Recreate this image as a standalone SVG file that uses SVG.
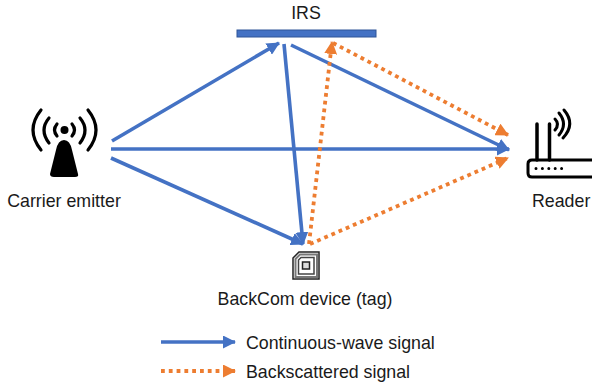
<svg xmlns="http://www.w3.org/2000/svg" width="592" height="385" viewBox="0 0 592 385">
<style>
text{font-family:"Liberation Sans",Arial,sans-serif;font-size:17.800px;fill:#1a1a1a}
.b{stroke:#4472c4;stroke-width:3.600;fill:none}
.o{stroke:#ed7d31;stroke-width:3.800;fill:none;stroke-dasharray:3.800 4}
.k{stroke:#000;fill:none;stroke-linecap:round}
</style>
<defs>
<marker id="ab" markerUnits="userSpaceOnUse" markerWidth="13" markerHeight="13" refX="12" refY="6.500" orient="auto"><path d="M0 0L13 6.500L0 13Z" fill="#4472c4"/></marker>
<marker id="ao" markerUnits="userSpaceOnUse" markerWidth="13" markerHeight="13" refX="12" refY="6.500" orient="auto"><path d="M0 0L13 6.500L0 13Z" fill="#ed7d31"/></marker>
</defs>
<g id="connectors">
<path class="b" marker-end="url(#ab)" d="M112 141L279 43"/>
<path class="b" marker-end="url(#ab)" d="M111 149L509 149"/>
<path class="b" marker-end="url(#ab)" d="M111 158L303 244"/>
<path class="b" marker-end="url(#ab)" d="M284 44L303 244"/>
<path class="b" marker-end="url(#ab)" d="M291 45L509 150"/>
<path class="o" marker-end="url(#ao)" d="M309 244L332 42"/>
<path class="o" marker-end="url(#ao)" d="M333 43L508 135"/>
<path class="o" marker-end="url(#ao)" d="M310 244L508 158"/>
<path class="b" marker-end="url(#ab)" d="M161 342L235 342"/>
<path class="o" marker-end="url(#ao)" d="M161 371L235 371"/>
</g>
<g id="irs">
<rect x="237" y="30" width="139" height="7" fill="#4472c4" stroke="#2f5597" stroke-width="1"/>
<text x="306" y="19" text-anchor="middle">IRS</text>
</g>
<g id="carrier">
<circle cx="64.500" cy="130" r="4" fill="#000"/>
<path d="M64 140Q58 140 56 150L50 174Q50 177 54 177H75Q79 177 78 174L72 150Q70 140 64 140Z" fill="#000"/>
<path class="k" stroke-width="3.200" d="M57 124Q52 130 57 136M72 124Q77 130 72 136"/>
<path class="k" stroke-width="3.200" d="M49 118Q39 130 49 143M80 118Q90 130 80 143"/>
<path class="k" stroke-width="3.200" d="M41 110Q25 130 41 150M88 110Q104 130 88 150"/>
<text x="64" y="207" text-anchor="middle">Carrier emitter</text>
</g>
<g id="reader">
<path class="k" stroke-width="3.500" d="M537 124V160M549.500 124V160"/>
<path class="k" stroke-width="3" d="M555 119Q560 124 555 130M559 113Q568 124 559 135M564 110Q576 124 563 138"/>
<path class="k" stroke-width="3" d="M593 160H532Q528 160 528 164V173Q528 177 532 177H593"/>
<path class="k" stroke-width="3" stroke-dasharray="0 6.400" d="M536 168.500H566"/>
<text x="532" y="207">Reader</text>
</g>
<g id="tag">
<path d="M293 258L299 252H319V279H293Z" fill="#fff" stroke="#222" stroke-width="1.500"/>
<path d="M295.500 259L300 254.500H317V277H295.500Z" fill="none" stroke="#777" stroke-width="2"/>
<path d="M298.500 260L301 257.500H314V274H298.500Z" fill="none" stroke="#444" stroke-width="1.500"/>
<rect x="302.500" y="262" width="7" height="7" fill="#ddd" stroke="#222" stroke-width="1.500"/>
<text x="305" y="305" text-anchor="middle">BackCom device (tag)</text>
</g>
<g id="legend">
<text x="246" y="349">Continuous-wave signal</text>
<text x="246" y="378">Backscattered signal</text>
</g>
</svg>
